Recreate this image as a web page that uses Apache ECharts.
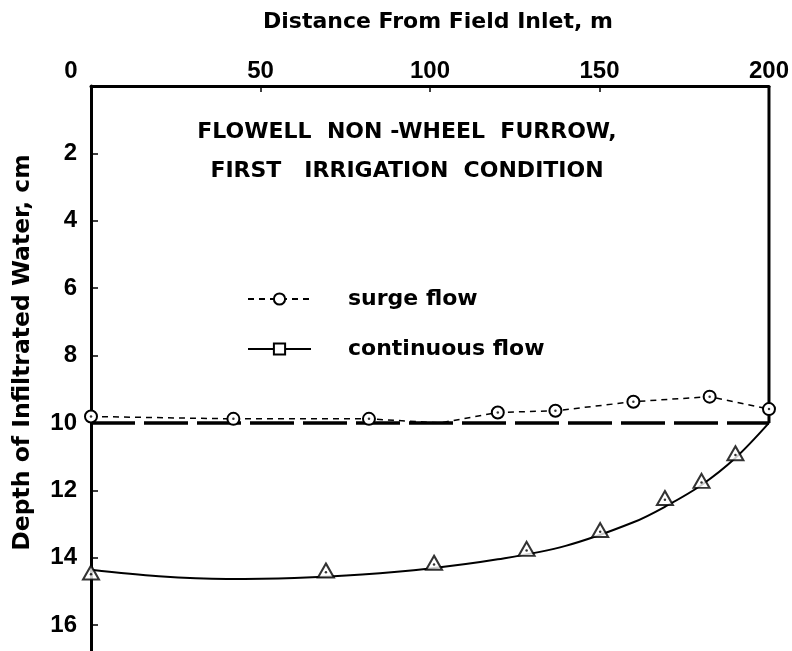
<!DOCTYPE html>
<html>
<head>
<meta charset="utf-8">
<script src="https://cdn.jsdelivr.net/npm/echarts@6/dist/echarts.min.js"></script>
<style>
  html, body { margin: 0; padding: 0; background: #fff; }
  #chart { width: 792px; height: 651px; }
</style>
</head>
<body>
<div id="chart"></div>
<script>
// Axis ticks
const distanceTicks = [0, 50, 100, 150, 200];
const depthTicks = [0, 2, 4, 6, 8, 10, 12, 14, 16];

// Surge flow observations (distance m, depth cm)
const surgeX = [0, 42, 82, 103, 120, 137, 160, 182.5, 200];
const surgeY = [9.81, 9.88, 9.88, 10.0, 9.69, 9.64, 9.37, 9.22, 9.59];
const surgeMarked = [true, true, true, false, true, true, true, true, true];

// Continuous flow observations
const contX = [0, 69.3, 101.2, 128.5, 150.2, 169.3, 180.1, 190.1];
const contY = [14.44, 14.38, 14.15, 13.74, 13.18, 12.23, 11.72, 10.9];

// Fitted continuous flow curve
const fitX = [0, 20, 40, 60, 80, 100, 120, 140, 160, 170, 180, 190, 200];
const fitY = [14.36, 14.55, 14.63, 14.6, 14.5, 14.32, 14.05, 13.65, 12.95, 12.45, 11.85, 11.05, 10.0];

// Required depth and field end
const requiredX = [0, 74, 200];
const requiredY = [10, 10, 10];
const fieldEndX = [200, 200];
const fieldEndY = [0, 10];

const SANS = 'Liberation Sans, Arial, sans-serif';
const WIDE = 'DejaVu Sans, sans-serif';
const zip = (xs, ys) => xs.map((x, i) => [x, ys[i]]);

const chart = echarts.init(document.getElementById('chart'), null, { renderer: 'canvas' });

chart.setOption({
  backgroundColor: '#ffffff',
  animation: false,
  title: {
    text: 'FLOWELL  NON -WHEEL  FURROW,\nFIRST   IRRIGATION  CONDITION',
    left: 402,
    top: 108,
    textAlign: 'center',
    textStyle: {
      fontFamily: WIDE, fontWeight: 'bold', fontSize: 22, color: '#000',
      lineHeight: 39, align: 'center'
    }
  },
  legend: {
    data: ['surge flow', 'continuous flow'],
    orient: 'vertical',
    left: 242,
    top: 283,
    itemWidth: 63,
    itemHeight: 14,
    itemGap: 28,
    selectedMode: false,
    textStyle: {
      fontFamily: WIDE, fontWeight: 'bold', fontSize: 22, color: '#000',
      padding: [0, 0, 0, 32]
    }
  },
  grid: { left: 91, top: 86, right: 22, bottom: 0, containLabel: false },
  xAxis: {
    type: 'value',
    position: 'top',
    min: distanceTicks[0],
    max: distanceTicks[distanceTicks.length - 1],
    interval: 50,
    name: 'Distance From Field Inlet, m',
    nameLocation: 'middle',
    nameGap: 53,
    nameTextStyle: {
      fontFamily: WIDE, fontWeight: 'bold', fontSize: 22, color: '#000',
      padding: [0, 0, 0, 16]
    },
    axisLine: { show: true, onZero: false, lineStyle: { color: '#000', width: 3 } },
    axisTick: { show: true, inside: true, length: 6, lineStyle: { color: '#000', width: 1.5 } },
    axisLabel: {
      fontFamily: SANS, fontWeight: 'bold', fontSize: 24, color: '#000', margin: 3,
      formatter: v => (v === 0 ? '{z|0}' : String(v)),
      rich: { z: { fontFamily: SANS, fontWeight: 'bold', fontSize: 24, color: '#000', padding: [0, 40, 0, 0] } }
    },
    splitLine: { show: false }
  },
  yAxis: {
    type: 'value',
    inverse: true,
    min: depthTicks[0],
    max: 16.77,
    interval: 2,
    name: 'Depth of Infiltrated Water, cm',
    nameLocation: 'middle',
    nameGap: 56,
    nameTextStyle: {
      fontFamily: WIDE, fontWeight: 'bold', fontSize: 23.5, color: '#000',
      padding: [0, 0, 0, 32]
    },
    axisLine: { show: true, onZero: false, lineStyle: { color: '#000', width: 3 } },
    axisTick: { show: true, inside: true, length: 7, lineStyle: { color: '#000', width: 1.5 } },
    axisLabel: {
      fontFamily: SANS, fontWeight: 'bold', fontSize: 24, color: '#000', margin: 14,
      showMaxLabel: false,
      formatter: v => (v === 0 || v % 2 !== 0 ? '' : String(v))
    },
    splitLine: { show: false }
  },
  series: [
    {
      name: 'Required Depth',
      type: 'line',
      data: zip(requiredX, requiredY).map((p, i) => i === 1 ? {
        value: p,
        label: {
          show: true, position: 'bottom', distance: 13, formatter: 'Required Depth',
          fontFamily: SANS, fontWeight: 'bold', fontSize: 21, color: '#000'
        }
      } : p),
      symbol: 'none',
      lineStyle: { color: '#000', width: 3.5, type: [44, 9] },
      z: 2
    },
    {
      name: 'field end',
      type: 'line',
      data: zip(fieldEndX, fieldEndY),
      symbol: 'none',
      lineStyle: { color: '#000', width: 3 },
      z: 2
    },
    {
      name: 'surge flow',
      type: 'line',
      data: zip(surgeX, surgeY).map((p, i) => surgeMarked[i] ? p : { value: p, symbol: 'none' }),
      symbol: 'emptyCircle',
      symbolSize: 12,
      showAllSymbol: true,
      lineStyle: { color: '#000', width: 1.5, type: [6, 5] },
      itemStyle: { color: '#000', borderColor: '#000', borderWidth: 1.5 },
      z: 4
    },
    {
      name: 'surge dots',
      type: 'scatter',
      data: zip(surgeX, surgeY).filter((p, i) => surgeMarked[i]),
      symbol: 'circle',
      symbolSize: 2.5,
      itemStyle: { color: '#000' },
      z: 5
    },
    {
      name: 'continuous flow',
      type: 'line',
      data: zip(fitX, fitY),
      smooth: 0.35,
      symbol: 'rect',
      showSymbol: false,
      lineStyle: { color: '#000', width: 2 },
      itemStyle: { color: '#fff', borderColor: '#000', borderWidth: 1.5 },
      z: 3
    },
    {
      name: 'continuous points',
      type: 'scatter',
      data: zip(contX, contY),
      symbol: 'emptyTriangle',
      symbolSize: [16, 14],
      itemStyle: { color: '#000', borderColor: '#000', borderWidth: 1.8 },
      z: 4
    },
    {
      name: 'continuous dots',
      type: 'scatter',
      data: zip(contX, contY.map(v => v + 0.05)),
      symbol: 'circle',
      symbolSize: 2.5,
      itemStyle: { color: '#000' },
      z: 5
    }
  ]
});
</script>
</body>
</html>
